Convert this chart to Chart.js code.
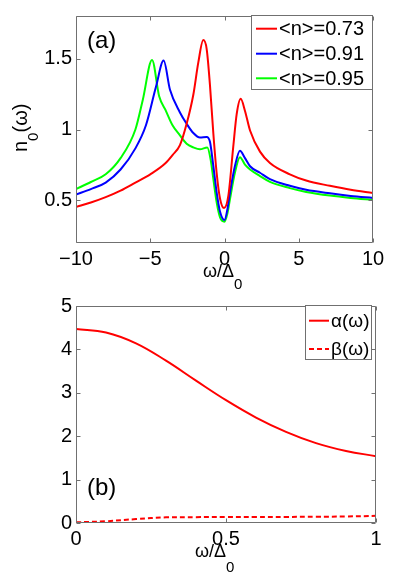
<!DOCTYPE html>
<html>
<head>
<meta charset="utf-8">
<script src="https://cdn.jsdelivr.net/npm/chart.js"></script>
<style>
    body { margin: 0; background: #fff; }
    #wrap { position: relative; width: 399px; height: 577px; }
    canvas { position: absolute; left: 0; }
</style>
</head>
<body>
<div id="wrap">
    <canvas id="chartA" width="399" height="290" style="top:0"></canvas>
    <canvas id="chartB" width="399" height="287" style="top:290px"></canvas>
</div>
<script>
// panel (a): n0(omega) for three fillings
const omegaRed = [-10, -9, -8, -7, -6, -5, -4, -3.5, -3, -2.55, -2.1, -1.76, -1.43, -1.2, -0.98, -0.75, -0.53, -0.3, -0.03, 0.26, 0.59, 0.82, 1.09, 1.38, 1.72, 2.39, 3.06, 4.4, 5.5, 7.1, 8.5, 10];
const nRed = [0.454, 0.485, 0.523, 0.569, 0.626, 0.684, 0.76, 0.82, 0.89, 1.04, 1.245, 1.475, 1.63, 1.567, 1.314, 0.97, 0.695, 0.512, 0.447, 0.534, 0.879, 1.108, 1.216, 1.131, 0.993, 0.844, 0.764, 0.684, 0.64, 0.603, 0.575, 0.553];

const omegaBlue = [-10, -9, -8, -7, -6, -5.29, -4.61, -4.1, -3.67, -3, -2.55, -2.1, -1.65, -1.2, -0.98, -0.75, -0.53, -0.3, 0, 0.2, 0.37, 0.7, 1.04, 1.38, 1.72, 2.39, 3.06, 4.4, 5.5, 7.1, 8.5, 10];
const nBlue = [0.541, 0.58, 0.626, 0.718, 0.867, 1.03, 1.303, 1.486, 1.28, 1.12, 1.04, 0.975, 0.943, 0.947, 0.913, 0.741, 0.557, 0.42, 0.362, 0.44, 0.557, 0.741, 0.851, 0.798, 0.741, 0.695, 0.65, 0.603, 0.575, 0.55, 0.532, 0.518];

const omegaGreen = [-10, -9, -8, -7, -6, -5.5, -4.88, -4.4, -3.94, -3.5, -3, -2.55, -2.1, -1.65, -1.16, -0.93, -0.75, -0.53, -0.3, 0, 0.2, 0.37, 0.7, 1.04, 1.38, 1.72, 2.39, 3.06, 4.4, 5.5, 7.1, 8.5, 10];
const nGreen = [0.58, 0.63, 0.684, 0.798, 1.0, 1.21, 1.49, 1.234, 1.13, 1.03, 0.959, 0.90, 0.874, 0.86, 0.874, 0.787, 0.65, 0.488, 0.38, 0.35, 0.41, 0.51, 0.695, 0.805, 0.752, 0.718, 0.672, 0.631, 0.587, 0.56, 0.534, 0.518, 0.505];

const xTicksA = [-10, -5, 0, 5, 10];
const yTicksA = [0.5, 1, 1.5];
const legendA = ['<n>=0.73', '<n>=0.91', '<n>=0.95'];

// panel (b): alpha and beta
const omegaB = [0, 0.1, 0.2, 0.3, 0.4, 0.5, 0.6, 0.7, 0.8, 0.9, 1.0];
const alphaB = [4.47, 4.39, 4.14, 3.74, 3.28, 2.83, 2.43, 2.10, 1.84, 1.66, 1.54];
const betaB = [0.015, 0.04, 0.09, 0.13, 0.135, 0.14, 0.14, 0.14, 0.145, 0.15, 0.165];

const xTicksB = [0, 0.5, 1];
const yTicksB = [0, 1, 2, 3, 4, 5];
const legendB = ['\u03b1(\u03c9)', '\u03b2(\u03c9)'];

const FONT = '"Liberation Sans", Arial, sans-serif';
const FRAME = '#707070';

function pts(xs, ys) {
    return xs.map((x, i) => ({ x: x, y: ys[i] }));
}

function lineSet(label, xs, ys, color, dash, smooth) {
    return {
        label: label,
        data: pts(xs, ys),
        borderColor: color,
        borderWidth: 2,
        borderDash: dash || [],
        pointRadius: 0,
        fill: false,
        tension: 0.4,
        cubicInterpolationMode: smooth ? 'default' : 'monotone'
    };
}

// matlab style box with inward ticks on all four sides
function drawFrame(chart, xTicks, yTicks) {
    const ctx = chart.ctx;
    const a = chart.chartArea;
    const sx = chart.scales.x, sy = chart.scales.y;
    const L = Math.round(a.left) + 0.5, R = Math.round(a.right) - 0.5;
    const T = Math.round(a.top) + 0.5, B = Math.round(a.bottom) - 0.5;
    ctx.save();
    ctx.strokeStyle = FRAME;
    ctx.lineWidth = 1;
    ctx.beginPath();
    ctx.rect(L, T, R - L, B - T);
    xTicks.forEach(v => {
        const x = Math.round(sx.getPixelForValue(v)) + 0.5;
        ctx.moveTo(x, B); ctx.lineTo(x, B - 4);
        ctx.moveTo(x, T); ctx.lineTo(x, T + 4);
    });
    yTicks.forEach(v => {
        const y = Math.round(sy.getPixelForValue(v)) + 0.5;
        ctx.moveTo(L, y); ctx.lineTo(L + 4, y);
        ctx.moveTo(R, y); ctx.lineTo(R - 4, y);
    });
    ctx.stroke();
    ctx.restore();
}

function drawLegend(chart, box, rows, labels, fontSize) {
    const ctx = chart.ctx;
    ctx.save();
    ctx.fillStyle = '#fff';
    ctx.fillRect(box.x, box.y, box.w, box.h);
    ctx.strokeStyle = FRAME;
    ctx.lineWidth = 1;
    ctx.strokeRect(box.x + 0.5, box.y + 0.5, box.w, box.h);
    ctx.font = fontSize + 'px ' + FONT;
    ctx.textBaseline = 'middle';
    ctx.fillStyle = '#000';
    chart.data.datasets.forEach((ds, i) => {
        const y = rows[i];
        ctx.beginPath();
        ctx.strokeStyle = ds.borderColor;
        ctx.lineWidth = 2;
        ctx.setLineDash(ds.borderDash || []);
        ctx.moveTo(box.sx0, y);
        ctx.lineTo(box.sx1, y);
        ctx.stroke();
        ctx.setLineDash([]);
        ctx.fillText(labels[i], box.tx, y + 1);
    });
    ctx.restore();
}

// draws a list of [text, isSub] pieces along the baseline
function drawPieces(ctx, pieces, x, y, size, subSize, drop) {
    let cx = x;
    pieces.forEach(p => {
        ctx.font = (p[1] ? subSize : size) + 'px ' + FONT;
        ctx.fillText(p[0], cx, p[1] ? y + drop : y);
        cx += ctx.measureText(p[0]).width;
    });
}

const framePluginA = {
    id: 'frameA',
    afterDatasetsDraw(chart) {
        const ctx = chart.ctx;
        drawFrame(chart, xTicksA, yTicksA);
        drawLegend(chart, { x: 251, y: 15, w: 121, h: 74, sx0: 256, sx1: 277, tx: 279 },
            [28.7, 53.7, 78.3], legendA, 20);
        ctx.save();
        ctx.fillStyle = '#000';
        ctx.textBaseline = 'alphabetic';
        ctx.font = '24px ' + FONT;
        ctx.fillText('(a)', 87, 48);
        drawPieces(ctx, [['\u03c9/\u0394', false], ['0', true]], 203, 277, 18, 15, 12);
        ctx.translate(27, 152);
        ctx.rotate(-Math.PI / 2);
        drawPieces(ctx, [['n', false], ['0', true], ['(\u03c9)', false]], 0, 0, 20, 15, 11);
        ctx.restore();
    }
};

const framePluginB = {
    id: 'frameB',
    afterDatasetsDraw(chart) {
        const ctx = chart.ctx;
        drawFrame(chart, xTicksB, yTicksB);
        drawLegend(chart, { x: 305, y: 15, w: 66, h: 54, sx0: 309, sx1: 329, tx: 331 },
            [30.7, 59], legendB, 19);
        ctx.save();
        ctx.fillStyle = '#000';
        ctx.textBaseline = 'alphabetic';
        ctx.font = '24px ' + FONT;
        ctx.fillText('(b)', 87, 205);
        drawPieces(ctx, [['\u03c9/\u0394', false], ['0', true]], 195, 267, 18, 15, 15);
        ctx.restore();
    }
};

function axisOpts(min, max, ticks, fit, size) {
    return {
        type: 'linear',
        min: min,
        max: max,
        afterBuildTicks: scale => { scale.ticks = ticks.map(v => ({ value: v })); },
        afterFit: scale => { scale[fit] = size; },
        grid: { display: false, drawTicks: false },
        border: { display: false },
        ticks: {
            color: '#000',
            font: { family: FONT, size: 20 },
            padding: 4,
            autoSkip: false,
            maxRotation: 0,
            callback: v => String(v).replace('-', '\u2212')
        }
    };
}

function baseOptions(padRight, xAxis, yAxis) {
    return {
        responsive: false,
        animation: false,
        devicePixelRatio: 1,
        layout: { padding: { top: 12, right: padRight, left: 0, bottom: 0 } },
        plugins: { legend: { display: false }, tooltip: { enabled: false } },
        scales: { x: xAxis, y: yAxis }
    };
}

new Chart(document.getElementById('chartA'), {
    type: 'line',
    data: {
        datasets: [
            lineSet(legendA[0], omegaRed, nRed, '#ff0000'),
            lineSet(legendA[1], omegaBlue, nBlue, '#0000ff'),
            lineSet(legendA[2], omegaGreen, nGreen, '#00ff00')
        ]
    },
    options: baseOptions(26,
        axisOpts(-10, 10, xTicksA, 'height', 47),
        axisOpts(0.2, 1.8, yTicksA, 'width', 76)),
    plugins: [framePluginA]
});

new Chart(document.getElementById('chartB'), {
    type: 'line',
    data: {
        datasets: [
            lineSet(legendB[0], omegaB, alphaB, '#ff0000', null, true),
            lineSet(legendB[1], omegaB, betaB, '#ff0000', [5, 3], true)
        ]
    },
    options: baseOptions(23,
        axisOpts(0, 1, xTicksB, 'height', 54),
        axisOpts(0, 5, yTicksB, 'width', 76)),
    plugins: [framePluginB]
});
</script>
</body>
</html>
